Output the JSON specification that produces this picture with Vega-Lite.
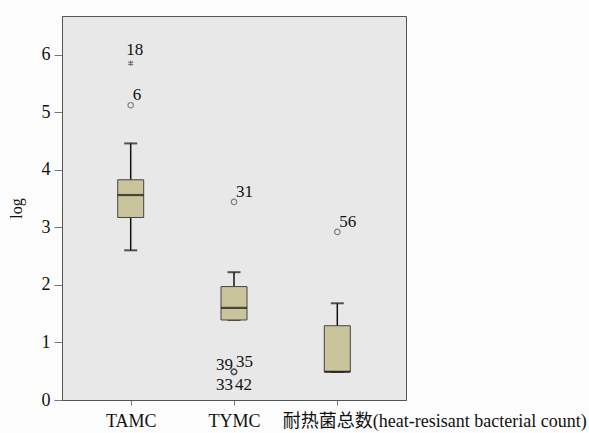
{
  "$schema": "https://vega.github.io/schema/vega-lite/v6.json",
  "width": 344,
  "height": 384,
  "autosize": {"type": "none"},
  "padding": {"left": 62, "top": 16, "right": 183, "bottom": 33},
  "background": "#fcfcfc",
  "config": {
    "view": {"fill": "#e8e8e8", "stroke": "#555555", "strokeWidth": 1},
    "font": "Liberation Serif",
    "axis": {
      "labelFont": "Liberation Serif, Noto Sans CJK SC",
      "titleFont": "Liberation Serif",
      "labelColor": "#111111",
      "titleColor": "#111111",
      "domainColor": "#555555",
      "tickColor": "#777777",
      "grid": false
    }
  },
  "datasets": {
    "boxes": [
      {"group": "TAMC", "lower": 2.6, "q1": 3.17, "median": 3.56, "q3": 3.825, "upper": 4.457},
      {"group": "TYMC", "lower": 1.39, "q1": 1.39, "median": 1.6, "q3": 1.97, "upper": 2.22},
      {"group": "耐热菌总数(heat-resisant bacterial count)", "lower": 0.49, "q1": 0.49, "median": 0.49, "q3": 1.29, "upper": 1.68}
    ],
    "outliers": [
      {"group": "TAMC", "value": 5.85, "id": "18", "kind": "extreme"},
      {"group": "TAMC", "value": 5.12, "id": "6", "kind": "outlier"},
      {"group": "TYMC", "value": 3.44, "id": "31", "kind": "outlier"},
      {"group": "TYMC", "value": 0.49, "id": "39", "kind": "outlier"},
      {"group": "TYMC", "value": 0.49, "id": "35", "kind": "outlier"},
      {"group": "TYMC", "value": 0.49, "id": "33", "kind": "outlier"},
      {"group": "TYMC", "value": 0.49, "id": "42", "kind": "outlier"},
      {"group": "耐热菌总数(heat-resisant bacterial count)", "value": 2.92, "id": "56", "kind": "outlier"}
    ]
  },
  "encoding": {
    "x": {
      "field": "group",
      "type": "nominal",
      "sort": ["TAMC", "TYMC", "耐热菌总数(heat-resisant bacterial count)"],
      "scale": {"type": "point", "padding": 0.665},
      "axis": {
        "title": null,
        "labelAngle": 0,
        "labelFontSize": 18,
        "labelPadding": 7,
        "tickSize": 5,
        "labelBaseline": "top",
        "labelAlign": {"condition": {"test": "datum.value === 'TAMC' || datum.value === 'TYMC'", "value": "center"}, "value": "left"},
        "labelOffset": {"condition": {"test": "datum.value === 'TAMC' || datum.value === 'TYMC'", "value": 0}, "value": -55},
        "labelLimit": 400,
        "labelOverlap": false
      }
    }
  },
  "layer": [
    {
      "data": {"name": "boxes"},
      "mark": {"type": "rule", "color": "#111111", "strokeWidth": 1.5},
      "encoding": {
        "y": {
          "field": "lower",
          "type": "quantitative",
          "scale": {"domain": [0, 6.67], "nice": false, "zero": false},
          "axis": {
            "title": "log",
            "titleFontSize": 16,
            "titleFontWeight": "normal",
            "titlePadding": 17,
            "values": [0, 1, 2, 3, 4, 5, 6],
            "format": "d",
            "labelFontSize": 18,
            "tickSize": 8,
            "labelPadding": 4,
            "domainColor": "#555555"
          }
        },
        "y2": {"field": "upper"}
      }
    },
    {
      "data": {"name": "boxes"},
      "mark": {"type": "tick", "color": "#111111", "size": 13, "thickness": 2},
      "encoding": {"y": {"field": "upper", "type": "quantitative"}}
    },
    {
      "data": {"name": "boxes"},
      "mark": {"type": "tick", "color": "#111111", "size": 13, "thickness": 2},
      "encoding": {"y": {"field": "lower", "type": "quantitative"}}
    },
    {
      "data": {"name": "boxes"},
      "mark": {"type": "bar", "size": 26, "fill": "#c9c49b", "stroke": "#444444", "strokeWidth": 1},
      "encoding": {
        "y": {"field": "q1", "type": "quantitative"},
        "y2": {"field": "q3"}
      }
    },
    {
      "data": {"name": "boxes"},
      "mark": {"type": "tick", "color": "#111111", "size": 26, "thickness": 2.2},
      "encoding": {"y": {"field": "median", "type": "quantitative"}}
    },
    {
      "data": {"name": "outliers"},
      "transform": [{"filter": "datum.kind === 'outlier'"}],
      "mark": {"type": "point", "shape": "circle", "filled": false, "size": 30, "stroke": "#555555", "strokeWidth": 1.2},
      "encoding": {"y": {"field": "value", "type": "quantitative"}}
    },
    {
      "data": {"name": "outliers"},
      "transform": [{"filter": "datum.kind === 'extreme'"}],
      "mark": {"type": "point", "shape": "M0,-1L0,1M-0.87,-0.5L0.87,0.5M-0.87,0.5L0.87,-0.5", "filled": false, "size": 32, "stroke": "#444444", "strokeWidth": 1.2},
      "encoding": {"y": {"field": "value", "type": "quantitative"}}
    },
    {
      "data": {"name": "outliers"},
      "transform": [{"filter": "datum.id === '18'"}],
      "mark": {"type": "text", "fontSize": 17, "align": "center", "baseline": "alphabetic", "dx": 4, "dy": -8, "color": "#111111"},
      "encoding": {"y": {"field": "value", "type": "quantitative"}, "text": {"field": "id"}}
    },
    {
      "data": {"name": "outliers"},
      "transform": [{"filter": "datum.id === '6' || datum.id === '31' || datum.id === '56' || datum.id === '35'"}],
      "mark": {"type": "text", "fontSize": 17, "align": "left", "baseline": "alphabetic", "dx": 2, "dy": -5, "color": "#111111"},
      "encoding": {"y": {"field": "value", "type": "quantitative"}, "text": {"field": "id"}}
    },
    {
      "data": {"name": "outliers"},
      "transform": [{"filter": "datum.id === '39'"}],
      "mark": {"type": "text", "fontSize": 17, "align": "right", "baseline": "alphabetic", "dx": -1, "dy": -2, "color": "#111111"},
      "encoding": {"y": {"field": "value", "type": "quantitative"}, "text": {"field": "id"}}
    },
    {
      "data": {"name": "outliers"},
      "transform": [{"filter": "datum.id === '33'"}],
      "mark": {"type": "text", "fontSize": 17, "align": "right", "baseline": "alphabetic", "dx": -1, "dy": 18, "color": "#111111"},
      "encoding": {"y": {"field": "value", "type": "quantitative"}, "text": {"field": "id"}}
    },
    {
      "data": {"name": "outliers"},
      "transform": [{"filter": "datum.id === '42'"}],
      "mark": {"type": "text", "fontSize": 17, "align": "left", "baseline": "alphabetic", "dx": 1, "dy": 18, "color": "#111111"},
      "encoding": {"y": {"field": "value", "type": "quantitative"}, "text": {"field": "id"}}
    }
  ]
}
